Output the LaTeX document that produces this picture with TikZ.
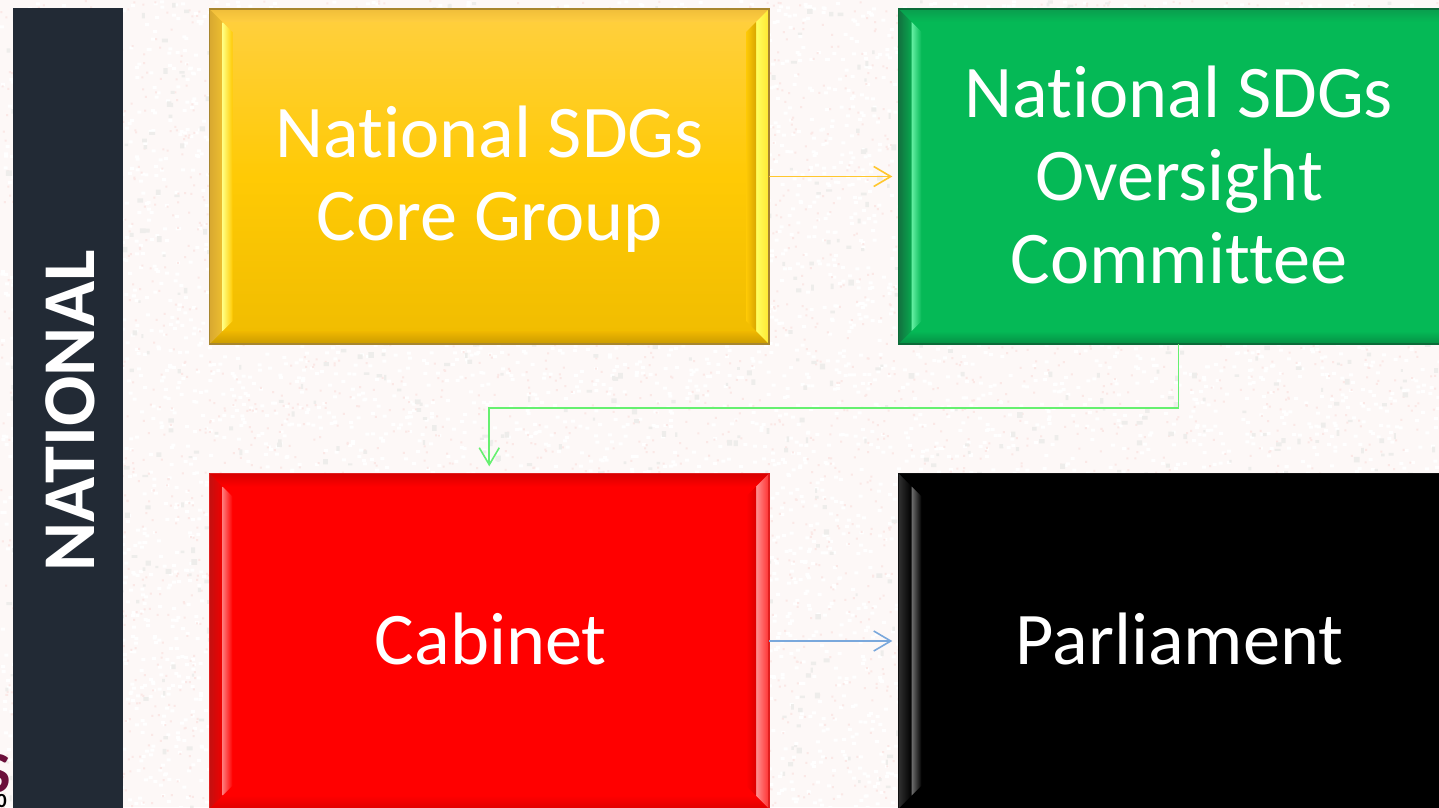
\documentclass[tikz,border=0pt]{standalone}
\usepackage{fontspec}
\setmainfont[Ligatures={NoCommon}]{Carlito}
\usetikzlibrary{arrows.meta,calc}
\newcommand{\bevelbox}[8]{% name, x, y, w, h, text, text dx, text dy
  \begin{scope}[shift={(#2,#3)}]
    \shade[top color=fT,bottom color=fB,middle color=fM] (0,0) rectangle (#4,#5);
    % outer bands
    \shade[top color=tA,bottom color=tB] (0,0) -- (#4,0) -- ({#4-13},13) -- (13,13) -- cycle;
    \shade[top color=bA,bottom color=bB] (13,{#5-13}) -- ({#4-13},{#5-13}) -- (#4,#5) -- (0,#5) -- cycle;
    \shade[left color=lA,right color=lB] (0,0) -- (13,13) -- (13,{#5-13}) -- (0,#5) -- cycle;
    \shade[left color=rA,right color=rB] ({#4-13},13) -- (#4,0) -- (#4,#5) -- ({#4-13},{#5-13}) -- cycle;
    % inner highlight and shadow
    \shade[left color=hi,right color=fM] (13,13) -- (23,23) -- (23,{#5-23}) -- (13,{#5-13}) -- cycle;
    \shade[left color=fM,right color=sh] ({#4-23},23) -- ({#4-13},13) -- ({#4-13},{#5-13}) -- ({#4-23},{#5-23}) -- cycle;
    \draw[edge,line width=1.2pt] (0,0) rectangle (#4,#5);
    \node[inner sep=0pt,minimum width=#4 pt,minimum height=#5 pt] (#1) at ({#4/2},{#5/2}) {};
    \node[boxtext] (#1text) at ({#4/2+#7},{#5/2+#8}) {#6};
  \end{scope}}
\tikzset{
  boxtext/.style={inner sep=0pt,text=white,align=center,font=\fontsize{74.3}{83}\selectfont},
  link/.style={line width=1.6pt,-{Straight Barb[length=17pt,width=20pt,line width=1.6pt]}}
}
\definecolor{bgbase}{HTML}{FDF8F7}
\definecolor{bgwhite}{HTML}{FFFFFF}
\definecolor{bgpink}{HTML}{FBE8E6}
\definecolor{bggray}{HTML}{EEEDEB}
\definecolor{barcol}{HTML}{222A35}
\definecolor{maroon}{HTML}{6B0F3A}
\definecolor{linkY}{HTML}{FFC72E}
\definecolor{linkG}{HTML}{66F070}
\definecolor{linkB}{HTML}{7AA8DC}
\begin{document}
\begin{tikzpicture}[x=1pt,y=-1pt]
\useasboundingbox (0,0) rectangle (1439,807);
\begin{scope}
\clip (0,0) rectangle (1439,807);
\fill[bgbase] (0,0) rectangle (1439,807);
\pgfmathsetseed{4242}
\foreach \j in {1,...,50} {
  \fill[bgwhite] foreach \i in {1,...,150} {({rnd*1439},{rnd*807}) rectangle ++(4,3)};
}
\foreach \j in {1,...,30} {
  \fill[bgpink] foreach \i in {1,...,150} {({rnd*1439},{rnd*807}) rectangle ++(2,2)};
}
\foreach \j in {1,...,12} {
  \fill[bggray] foreach \i in {1,...,100} {({rnd*1439},{rnd*807}) rectangle ++({2+rnd*4},{2+rnd*4})};
}
% cropped logo fragment
\node[anchor=east,inner sep=0pt,text=maroon,font=\fontsize{58}{58}\selectfont\bfseries] (logoS) at (11,774) {S};
\node[anchor=east,inner sep=0pt,text=black,font=\fontsize{20}{20}\selectfont\bfseries] (logoO) at (7,801) {0};
% side bar
\fill[barcol] (13,8) rectangle (123,808);
\node[rotate=90,inner sep=0pt,text=white,font=\fontsize{74.5}{74.5}\selectfont\bfseries] (nat) at (70.5,411) {NATIONAL};
% yellow
\definecolor{fT}{HTML}{FFD040}\definecolor{fM}{HTML}{FFCA05}\definecolor{fB}{HTML}{F0BC00}
\definecolor{tA}{HTML}{F0BE3A}\definecolor{tB}{HTML}{FFCE40}
\definecolor{bA}{HTML}{F0B800}\definecolor{bB}{HTML}{C99A00}
\definecolor{lA}{HTML}{D8A830}\definecolor{lB}{HTML}{EDBE30}
\definecolor{rA}{HTML}{FFFF60}\definecolor{rB}{HTML}{FFE830}
\definecolor{hi}{HTML}{FFFF80}\definecolor{sh}{HTML}{D9A600}
\definecolor{edge}{HTML}{A8862E}
\bevelbox{core}{209.5}{9}{559.5}{335}{National SDGs\\Core Group}{0.5}{3}
% green
\definecolor{fT}{HTML}{05B956}\definecolor{fM}{HTML}{05B956}\definecolor{fB}{HTML}{05B956}
\definecolor{tA}{HTML}{0A9E4E}\definecolor{tB}{HTML}{05B956}
\definecolor{bA}{HTML}{05B956}\definecolor{bB}{HTML}{058F44}
\definecolor{lA}{HTML}{12723F}\definecolor{lB}{HTML}{08A84F}
\definecolor{rA}{HTML}{05B956}\definecolor{rB}{HTML}{05B956}
\definecolor{hi}{HTML}{66F0A4}\definecolor{sh}{HTML}{05B956}
\definecolor{edge}{HTML}{0B6B38}
\bevelbox{over}{898.5}{9}{560}{335}{National SDGs\\Oversight\\Committee}{0.5}{-2}
% red
\definecolor{fT}{HTML}{FF0000}\definecolor{fM}{HTML}{FF0000}\definecolor{fB}{HTML}{FF0000}
\definecolor{tA}{HTML}{D80000}\definecolor{tB}{HTML}{FF0000}
\definecolor{bA}{HTML}{FF0000}\definecolor{bB}{HTML}{E00000}
\definecolor{lA}{HTML}{C41010}\definecolor{lB}{HTML}{F00000}
\definecolor{rA}{HTML}{FF9090}\definecolor{rB}{HTML}{FF3030}
\definecolor{hi}{HTML}{FF7878}\definecolor{sh}{HTML}{DC0000}
\definecolor{edge}{HTML}{E02020}
\bevelbox{cab}{209.5}{473.5}{559.5}{335}{Cabinet}{1.5}{-2}
% black
\definecolor{fT}{HTML}{000000}\definecolor{fM}{HTML}{000000}\definecolor{fB}{HTML}{000000}
\definecolor{tA}{HTML}{000000}\definecolor{tB}{HTML}{000000}
\definecolor{bA}{HTML}{000000}\definecolor{bB}{HTML}{000000}
\definecolor{lA}{HTML}{303030}\definecolor{lB}{HTML}{000000}
\definecolor{rA}{HTML}{000000}\definecolor{rB}{HTML}{000000}
\definecolor{hi}{HTML}{6E6E6E}\definecolor{sh}{HTML}{000000}
\definecolor{edge}{HTML}{101010}
\bevelbox{parl}{898.5}{473.5}{560}{335}{Parliament}{1}{-2}
% connectors
\draw[link,linkY,shorten >=6pt] (core.east) -- (over.west);
\draw[link,linkG,shorten >=7pt] (over.south) -- ++(0,64) -| (cab.north);
\draw[link,linkB,shorten >=6pt] (cab.east) -- (parl.west);
\end{scope}
\end{tikzpicture}
\end{document}
